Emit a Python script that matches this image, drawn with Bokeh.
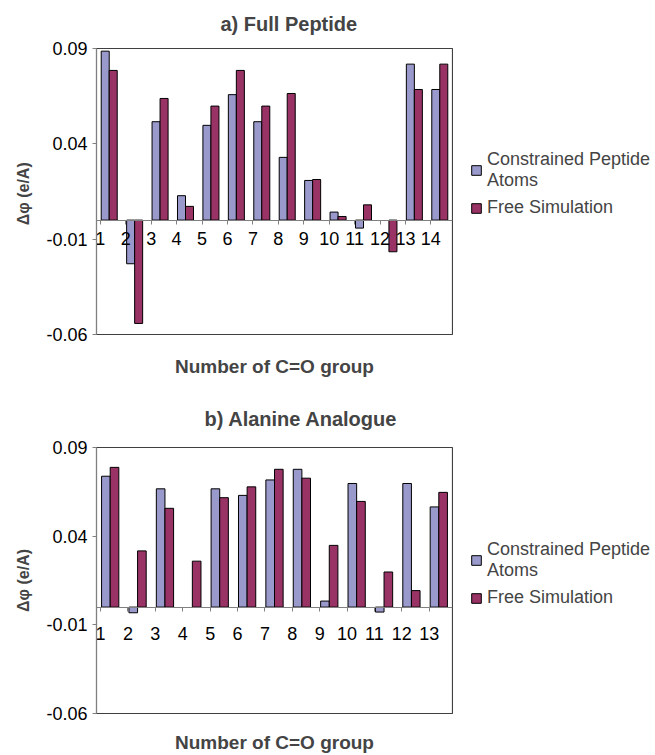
import numpy as np
from bokeh.plotting import figure
from bokeh.layouts import column, row
from bokeh.models import Range1d, FixedTicker, LinearAxis, Legend, LegendItem, Title
from bokeh.embed import file_html
from bokeh.resources import INLINE

NAN = float("nan")

# ---- data ----
cats_a = ["1", "2", "3", "4", "5", "6", "7", "8", "9", "10", "11", "12", "13", "14"]
constrained_a = [0.0886, -0.0229, 0.0516, 0.0128, 0.0497, 0.0658, 0.0516, 0.0329,
                 0.0208, 0.0042, -0.0042, NAN, 0.0818, 0.0685]
free_a = [0.0785, -0.0542, 0.0638, 0.0072, 0.0598, 0.0785, 0.0598, 0.0664,
          0.0213, 0.0019, 0.0080, -0.0166, 0.0685, 0.0818]

cats_b = ["1", "2", "3", "4", "5", "6", "7", "8", "9", "10", "11", "12", "13"]
constrained_b = [0.0738, -0.0032, 0.0667, NAN, 0.0667, 0.0630, 0.0717, 0.0777,
                 0.0034, 0.0697, -0.0028, 0.0697, 0.0565]
free_b = [0.0788, 0.0317, 0.0557, 0.0259, 0.0617, 0.0678, 0.0777, 0.0727,
          0.0348, 0.0596, 0.0198, 0.0093, 0.0647]

y_ticks = [-0.06, -0.01, 0.04, 0.09]
y_tick_labels = ["-0.06", "-0.01", "0.04", "0.09"]

series_names = ["Constrained Peptide\nAtoms", "Free Simulation"]
series_colors = ["#9999CC", "#993366"]

FONT = "Liberation Sans"
PLOT_W = 453
LEG_W = 655 - PLOT_W


def make_chart(title, cats, c_vals, f_vals, ylabel, height, top, bottom,
               title_standoff, title_offset, xlabel_standoff, tick_standoff, legend_y):
    n = len(cats)
    p = figure(width=PLOT_W, height=height,
               x_range=Range1d(0, n), y_range=Range1d(y_ticks[0], y_ticks[-1]),
               output_backend="svg", toolbar_location=None,
               x_axis_location=None, y_axis_location="left",
               min_border_left=96, min_border_right=1,
               min_border_top=top, min_border_bottom=bottom)
    p.xgrid.visible = False
    p.ygrid.visible = False
    p.outline_line_color = "#404040"
    p.outline_line_width = 1.2

    idx = np.arange(n)
    bw = 0.315
    r1 = p.vbar(x=idx + 0.5 - bw / 2, top=c_vals, bottom=0, width=bw,
                fill_color=series_colors[0], line_color="black", line_width=1)
    r2 = p.vbar(x=idx + 0.5 + bw / 2, top=f_vals, bottom=0, width=bw,
                fill_color=series_colors[1], line_color="black", line_width=1)

    # y axis
    ya = p.yaxis[0]
    ya.ticker = FixedTicker(ticks=y_ticks)
    ya.major_label_overrides = {t: l for t, l in zip(y_ticks, y_tick_labels)}
    ya.major_tick_in = 0
    ya.major_tick_out = 4
    ya.minor_tick_line_color = None
    ya.axis_line_color = "#808080"
    ya.major_tick_line_color = "#808080"
    ya.major_label_text_font = FONT
    ya.major_label_text_font_size = "18px"
    ya.major_label_text_color = "black"
    ya.major_label_standoff = 5
    ya.axis_label = ylabel
    ya.axis_label_text_font = FONT
    ya.axis_label_text_font_size = "16px"
    ya.axis_label_text_font_style = "bold"
    ya.axis_label_standoff = 11

    # x axis crossing at zero; Excel-style numbers sit just right of the boundaries
    ticks = [i + 0.15 for i in range(n)]
    xa = LinearAxis(fixed_location=0, ticker=FixedTicker(ticks=ticks),
                    major_label_overrides={t: c for t, c in zip(ticks, cats)})
    xa.major_tick_in = 0
    xa.major_tick_out = 4
    xa.minor_tick_line_color = None
    xa.axis_line_color = "#808080"
    xa.major_tick_line_color = "#808080"
    xa.major_label_text_font = FONT
    xa.major_label_text_font_size = "18px"
    xa.major_label_text_color = "black"
    xa.major_label_standoff = tick_standoff
    p.add_layout(xa, "below")

    # x axis title only
    xl = LinearAxis(ticker=FixedTicker(ticks=[]), axis_label="Number of C=O group")
    xl.axis_line_color = None
    xl.major_tick_line_color = None
    xl.minor_tick_line_color = None
    xl.axis_label_text_font = FONT
    xl.axis_label_text_font_size = "19px"
    xl.axis_label_text_font_style = "bold"
    xl.axis_label_standoff = xlabel_standoff
    p.add_layout(xl, "below")

    t = Title(text=title, align="left", vertical_align="top", text_font=FONT,
              text_font_size="20px", text_font_style="bold",
              offset=title_offset, standoff=title_standoff)
    p.add_layout(t, "above")

    # legend in its own panel to the right
    lg = figure(width=LEG_W, height=height, x_range=Range1d(0, 1), y_range=Range1d(0, 1),
                output_backend="svg", toolbar_location=None,
                x_axis_location=None, y_axis_location=None,
                min_border=0, outline_line_color=None)
    lg.xgrid.visible = False
    lg.ygrid.visible = False
    d1 = lg.vbar(x=[0], top=[0], width=0.1, fill_color=series_colors[0],
                 line_color="black", visible=False)
    d2 = lg.vbar(x=[0], top=[0], width=0.1, fill_color=series_colors[1],
                 line_color="black", visible=False)
    legend = Legend(items=[LegendItem(label=series_names[0], renderers=[d1]),
                           LegendItem(label=series_names[1], renderers=[d2])],
                    location=(17, legend_y), margin=0, padding=4,
                    glyph_width=12, glyph_height=12, label_standoff=5, spacing=6,
                    label_text_font=FONT, label_text_font_size="18px",
                    border_line_color=None, background_fill_alpha=0)
    lg.add_layout(legend, "center")
    return row(p, lg, spacing=0)


ra = make_chart("a) Full Peptide", cats_a, constrained_a, free_a, "Δφ  (e/A)",
                392, 48, 58, 23, 124, 21, 8, 116)
rb = make_chart("b) Alanine Analogue", cats_b, constrained_b, free_b, "Δφ (e/A)",
                363, 55, 40, 31, 108, 18, 16, 105)

layout = column(ra, rb, spacing=0)
open("out.html", "w").write(file_html(layout, INLINE))
